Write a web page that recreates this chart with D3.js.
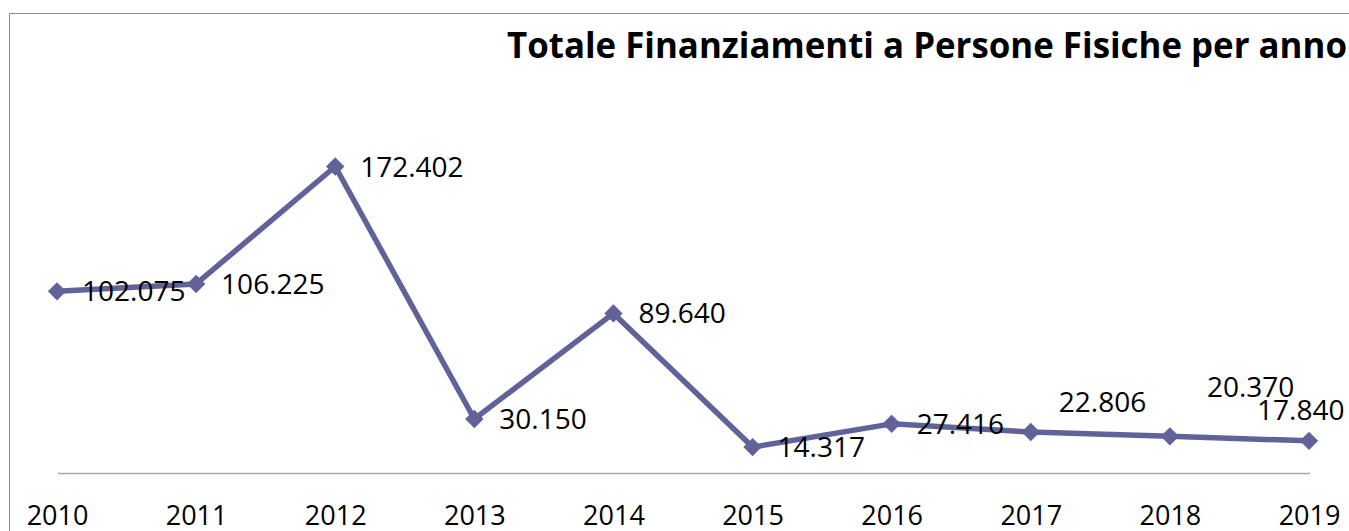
<!DOCTYPE html>
<html>
<head>
<meta charset="utf-8">
<script src="https://cdn.jsdelivr.net/npm/d3@7"></script>
<style>
  html, body { margin: 0; padding: 0; background: #fff; overflow: hidden; }
  text { font-family: "Open Sans", "Noto Sans", sans-serif; fill: #000; }
</style>
</head>
<body>
<svg class="chart"></svg>
<script>
// chart data
var years = ["2010", "2011", "2012", "2013", "2014", "2015", "2016", "2017", "2018", "2019"];
var values = [102.075, 106.225, 172.402, 30.150, 89.640, 14.317, 27.416, 22.806, 20.370, 17.840];
var valueLabels = ["102.075", "106.225", "172.402", "30.150", "89.640", "14.317", "27.416", "22.806", "20.370", "17.840"];
var title = "Totale Finanziamenti a Persone Fisiche per anno";

// label nudges (dx, dy) relative to the default right-side position
var labelNudge = [[0, 0], [0, 0], [0, 0], [0, 0], [0, 0], [0, 0], [0, 0], [3, -30], [12, -49], [-77, -31]];

(function () {
    'use strict';
    var W = 1349, H = 531;
    var svg = d3.select(".chart").attr("width", W).attr("height", H);

    // chart frame (cropped on right and bottom)
    svg.append("path")
        .attr("d", "M9.5," + H + " V13.5 H" + W)
        .attr("fill", "none")
        .attr("stroke", "#8c8c8c")
        .attr("stroke-width", 1);

    var x = d3.scalePoint().domain(years).range([57, 1309]);
    var y = d3.scaleLinear().domain([0, 172.402]).range([472.5, 166.5]);

    // category axis baseline
    svg.append("line")
        .attr("x1", 58).attr("x2", 1310)
        .attr("y1", 473.5).attr("y2", 473.5)
        .attr("stroke", "#a6a6a6").attr("stroke-width", 1.3);

    var axis = d3.axisBottom(x).tickSize(0).tickPadding(0);
    var gx = svg.append("g").attr("transform", "translate(0,473)").call(axis);
    gx.select(".domain").remove();
    gx.selectAll("text")
        .attr("dy", null)
        .attr("y", 52)
        .style("font-size", "27px")
        .style("font-family", "'Open Sans', sans-serif");

    // title
    svg.append("text")
        .attr("x", 1347).attr("y", 58)
        .attr("text-anchor", "end")
        .attr("textLength", 840)
        .attr("lengthAdjust", "spacingAndGlyphs")
        .style("font-size", "36px")
        .style("font-weight", "bold")
        .text(title);

    var pts = years.map(function (d, i) { return [x(d), y(values[i])]; });

    svg.append("path")
        .datum(pts)
        .attr("fill", "none")
        .attr("stroke", "#62629a")
        .attr("stroke-width", 5.5)
        .attr("stroke-linejoin", "round")
        .attr("d", d3.line());

    svg.selectAll(".marker").data(pts).enter()
        .append("path")
        .attr("class", "marker")
        .attr("fill", "#62629a")
        .attr("transform", function (d) { return "translate(" + d[0] + "," + d[1] + ") rotate(45)"; })
        .attr("d", "M-6.5,-6.5H6.5V6.5H-6.5Z");

    svg.selectAll(".lbl").data(pts).enter()
        .append("text")
        .attr("class", "lbl")
        .attr("x", function (d, i) { return d[0] + 25 + labelNudge[i][0]; })
        .attr("y", function (d, i) { return d[1] + 10 + labelNudge[i][1]; })
        .style("font-size", "28px")
        .text(function (d, i) { return valueLabels[i]; });
})();
</script>
</body>
</html>
